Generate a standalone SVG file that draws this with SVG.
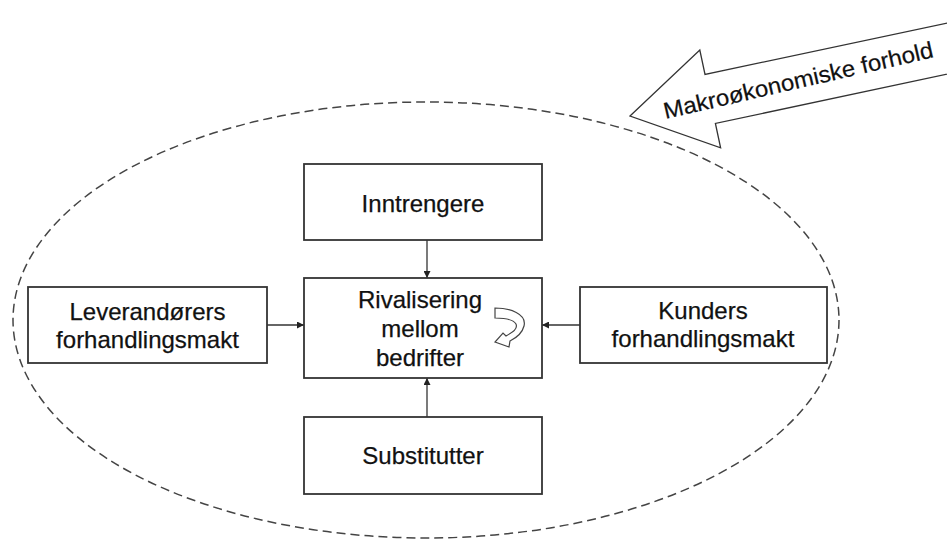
<svg xmlns="http://www.w3.org/2000/svg" width="947" height="540" viewBox="0 0 947 540">
<defs>
<style>
.box{fill:#fff;stroke:#333;stroke-width:1.8}
.t{font-family:"Liberation Sans",Arial,sans-serif;font-size:24px;fill:#111;stroke:#111;stroke-width:0.25;text-anchor:middle}
.c{stroke:#333;stroke-width:1.3;fill:none}
</style>
<marker id="ah" viewBox="0 0 10 10" refX="10" refY="5" markerWidth="7" markerHeight="7" orient="auto" markerUnits="userSpaceOnUse">
<path d="M0,0 L10,5 L0,10 Z" fill="#222"/>
</marker>
</defs>
<rect width="947" height="540" fill="#fff"/>
<g id="boundary">
<ellipse cx="426" cy="320" rx="413" ry="218" fill="none" stroke="#444" stroke-width="1.5" stroke-dasharray="9 5"/>
</g>
<g id="makro" transform="translate(630,116) rotate(-12)">
<polygon points="0,0 82,-50 82,-25 332,-25 332,25 82,25 82,50" fill="#fff" stroke="#333" stroke-width="1.3"/>
<text x="172" y="8" font-family="'Liberation Sans',Arial,sans-serif" font-size="23" fill="#111" stroke="#111" stroke-width="0.2" text-anchor="middle" textLength="276" lengthAdjust="spacingAndGlyphs" transform="rotate(-1 172 0)">Makroøkonomiske forhold</text>
</g>
<g id="connectors">
<line class="c" x1="427" y1="240" x2="427" y2="278" marker-end="url(#ah)"/>
<line class="c" x1="427" y1="417" x2="427" y2="378" marker-end="url(#ah)"/>
<line class="c" x1="267" y1="325" x2="304" y2="325" marker-end="url(#ah)"/>
<line class="c" x1="580" y1="325" x2="542" y2="325" marker-end="url(#ah)"/>
</g>
<g id="inntrengere">
<rect class="box" x="304" y="164" width="238" height="76"/>
<text class="t" x="423" y="212">Inntrengere</text>
</g>
<g id="rivalisering">
<rect class="box" x="304" y="278" width="238" height="100"/>
<text class="t" x="420" y="308">Rivalisering</text>
<text class="t" x="420" y="337">mellom</text>
<text class="t" x="420" y="366">bedrifter</text>
<path d="M495,308 C510,308 527,314 524,326 C522,334 516,338 510,341 L509,347 L495,342 L503,333 L506,336 C513,332 518,329 516,324 C513,319 505,318 495,318 Z" fill="#fff" stroke="#444" stroke-width="1.2"/>
</g>
<g id="leverandorer">
<rect class="box" x="28" y="287" width="239" height="76"/>
<text class="t" x="147.5" y="320">Leverandørers</text>
<text class="t" x="147.5" y="348">forhandlingsmakt</text>
</g>
<g id="kunder">
<rect class="box" x="580" y="287" width="247" height="76"/>
<text class="t" x="703" y="319">Kunders</text>
<text class="t" x="703" y="347">forhandlingsmakt</text>
</g>
<g id="substitutter">
<rect class="box" x="304" y="417" width="238" height="77"/>
<text class="t" x="423" y="464">Substitutter</text>
</g>
</svg>
